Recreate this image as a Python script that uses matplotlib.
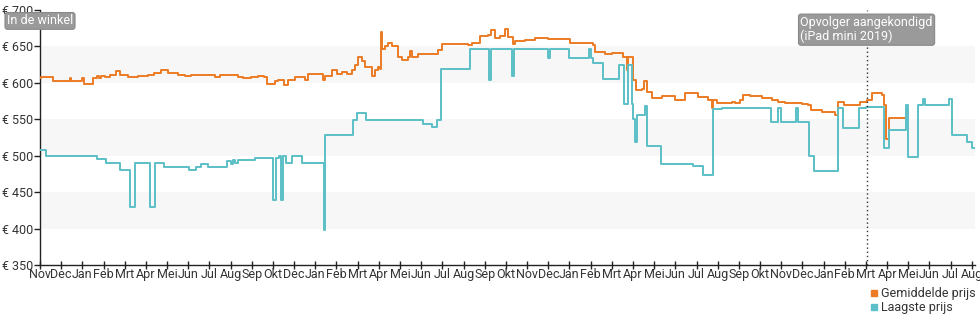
import matplotlib
matplotlib.use("Agg")
import matplotlib.pyplot as plt
from matplotlib.lines import Line2D

plt.rcParams['font.family'] = ['Roboto', 'DejaVu Sans']

# x tick labels (evenly spaced, one per tick)
month_labels = ["Nov", "Dec", "Jan", "Feb", "Mrt", "Apr", "Mei", "Jun", "Jul", "Aug", "Sep", "Okt",
                "Dec", "Jan", "Feb", "Mrt", "Apr", "Mei", "Jun", "Jul", "Aug", "Sep",
                "Okt", "Nov", "Dec", "Jan", "Feb", "Mrt", "Apr", "Mei", "Jun", "Jul", "Aug", "Sep",
                "Okt", "Nov", "Dec", "Jan", "Feb", "Mrt", "Apr", "Mei", "Jun", "Jul", "Aug"]

# Laagste prijs (positions in tick units, values in euro)
low_x = [0.00, 0.30, 2.71, 3.13, 3.76, 4.23, 4.47, 5.18, 5.45, 5.85, 7.03, 7.38, 7.62, 7.93,
         8.85, 9.00, 9.10, 9.20, 9.35, 10.13, 11.00, 11.16, 11.30, 11.38, 11.48, 11.60, 11.88,
         12.36, 13.42, 13.47, 14.76, 14.95, 15.38, 18.10, 18.50, 18.73, 18.92, 20.30, 21.22,
         21.30, 22.28, 22.36, 23.97, 24.10, 24.98, 25.90, 26.00, 26.10, 26.60, 27.35, 27.57,
         27.78, 27.94, 28.01, 28.10, 28.20, 28.56, 28.67, 29.30, 30.85, 31.32, 31.80, 32.20,
         34.50, 34.86, 34.98, 35.70, 35.78, 36.30, 36.56, 37.66, 37.93, 38.67, 39.00, 39.86,
         40.10, 40.87, 40.97, 41.47, 41.70, 41.78, 42.90, 43.08, 43.75, 44.00, 44.15]
low_y = [508, 500, 495, 490, 480, 429, 490, 429, 490, 484, 480, 484, 488, 484,
         493, 489, 494, 490, 494, 497, 439, 497, 499, 439, 500, 490, 500,
         490, 398, 528, 549, 559, 549, 544, 539, 549, 619, 647, 604,
         647, 610, 647, 634, 647, 634, 647, 634, 627, 605, 625, 571,
         625, 571, 550, 519, 556, 568, 514, 489, 486, 473, 564, 566,
         546, 565, 546, 565, 546, 499, 479, 565, 538, 565, 567, 511,
         535, 570, 498, 570, 578, 570, 578, 528, 519, 511, 511]

# Gemiddelde prijs
avg_x = [0.00, 0.03, 0.61, 1.40, 1.42, 1.45, 1.95, 2.00, 2.08, 2.42, 2.50, 2.70, 2.80, 2.90,
         3.05, 3.30, 3.60, 3.80, 4.15, 4.63, 5.10, 5.40, 5.73, 6.04, 6.52, 6.83, 7.14, 8.09,
         8.25, 8.48, 8.96, 9.35, 9.58, 9.98, 10.29, 10.60, 10.70, 10.92, 11.10, 11.25, 11.53,
         11.72, 12.04, 12.28, 12.51, 12.67, 13.14, 13.38, 13.46, 13.77, 14.01, 14.24, 14.48,
         14.72, 14.87, 15.03, 15.22, 15.35, 15.66, 15.82, 15.97, 16.05, 16.10, 16.16, 16.29,
         16.45, 16.60, 16.76, 16.89, 17.08, 17.39, 17.45, 17.55, 17.86, 18.65, 18.81, 18.97,
         20.22, 20.38, 20.77, 21.17, 21.29, 21.48, 21.72, 21.95, 22.11, 22.35, 22.43, 22.90,
         23.37, 24.00, 24.79, 25.02, 25.73, 26.12, 26.20, 26.68, 27.00, 27.38, 27.54, 27.70,
         27.78, 27.94, 28.01, 28.12, 28.41, 28.53, 28.64, 28.88, 29.35, 29.98, 30.45, 31.08,
         31.55, 31.71, 31.79, 31.95, 32.66, 32.81, 33.05, 33.21, 33.52, 34.07, 34.55, 34.86,
         35.17, 35.73, 35.96, 36.27, 36.40, 36.91, 37.53, 37.66, 37.97, 38.63, 38.71, 39.03,
         39.27, 39.74, 39.86, 39.97, 40.08, 40.87]
avg_y = [606, 608, 602, 602, 607, 602, 602, 607, 599, 599, 607, 610, 606, 610,
         608, 611, 616, 611, 608, 610, 611, 613, 617, 614, 611, 609, 611, 611,
         608, 611, 611, 608, 606, 608, 610, 608, 599, 598, 602, 604, 597,
         604, 608, 608, 604, 612, 612, 604, 609, 617, 612, 615, 612,
         617, 624, 635, 630, 622, 609, 617, 622, 619, 670, 647, 650,
         655, 650, 651, 636, 632, 636, 644, 636, 640, 640, 645, 653,
         652, 655, 665, 666, 672, 661, 664, 674, 663, 654, 657, 659,
         661, 660, 660, 655, 655, 652, 643, 640, 641, 641, 636, 618,
         636, 636, 604, 590, 592, 602, 588, 579, 582, 576, 586, 580,
         576, 566, 576, 573, 574, 573, 576, 583, 582, 579, 577, 574,
         572, 572, 571, 570, 563, 560, 556, 574, 569, 569, 574, 576,
         586, 584, 570, 523, 552, 552]

y_ticks = [350, 400, 450, 500, 550, 600, 650, 700]
bands = [(400, 450), (500, 550), (600, 650)]
announce_x = 39.03

orange = '#EC7B25'
teal = '#5CBFC7'

fig = plt.figure(figsize=(9.8, 3.25), dpi=100)
ax = fig.add_axes([40/980, 60/325, 935/980, 255/325])

for lo, hi in bands:
    ax.axhspan(lo, hi, color='#f7f7f7', zorder=0, lw=0)

ax.plot(avg_x, avg_y, color=orange, lw=1.4, drawstyle='steps-post', zorder=3)
ax.plot(low_x, low_y, color=teal, lw=1.4, drawstyle='steps-post', zorder=4)

ax.axvline(announce_x, color='#333333', lw=1.0, linestyle=(0, (1, 2)), zorder=5)

ax.set_xlim(0, 44.15)
ax.set_ylim(350, 700)
ax.set_yticks(y_ticks)
ax.set_yticklabels([f"€ {v}" for v in y_ticks])
ax.set_xticks(range(len(month_labels)))
ax.set_xticklabels(month_labels)

for s in ['top', 'right']:
    ax.spines[s].set_visible(False)
for s in ['left', 'bottom']:
    ax.spines[s].set_color('#222222')
    ax.spines[s].set_linewidth(1.0)

ax.tick_params(axis='y', direction='out', length=4, width=1, colors='#222222',
               labelsize=9, labelcolor='#333333', pad=1)
ax.tick_params(axis='x', direction='inout', length=6, width=1, colors='#222222',
               labelsize=9, labelcolor='#333333', pad=-1)

box = dict(boxstyle='round,pad=0.15,rounding_size=0.2', facecolor='#9a9a9a',
           edgecolor='#888888', lw=0.8)
ax.text(0, 685, "In de winkel", color='white', fontsize=9, ha='center', va='center',
        bbox=box, zorder=6, clip_on=False)
ax.text(announce_x, 673, "Opvolger aangekondigd\n(iPad mini 2019)", color='white', fontsize=9,
        ha='center', va='center', multialignment='left', bbox=box, zorder=6,
        linespacing=1.1, clip_on=False)

handles = [Line2D([], [], marker='s', linestyle='', color=orange, markersize=5),
           Line2D([], [], marker='s', linestyle='', color=teal, markersize=5)]
leg = fig.legend(handles, ["Gemiddelde prijs", "Laagste prijs"], loc='upper left',
                 bbox_to_anchor=(870/980, 1 - 287/325), frameon=False, fontsize=9,
                 handlelength=0.6, handletextpad=0.3, labelspacing=0.1,
                 borderpad=0, borderaxespad=0)
for t in leg.get_texts():
    t.set_color('#333333')

fig.savefig('out.png', dpi=100)
